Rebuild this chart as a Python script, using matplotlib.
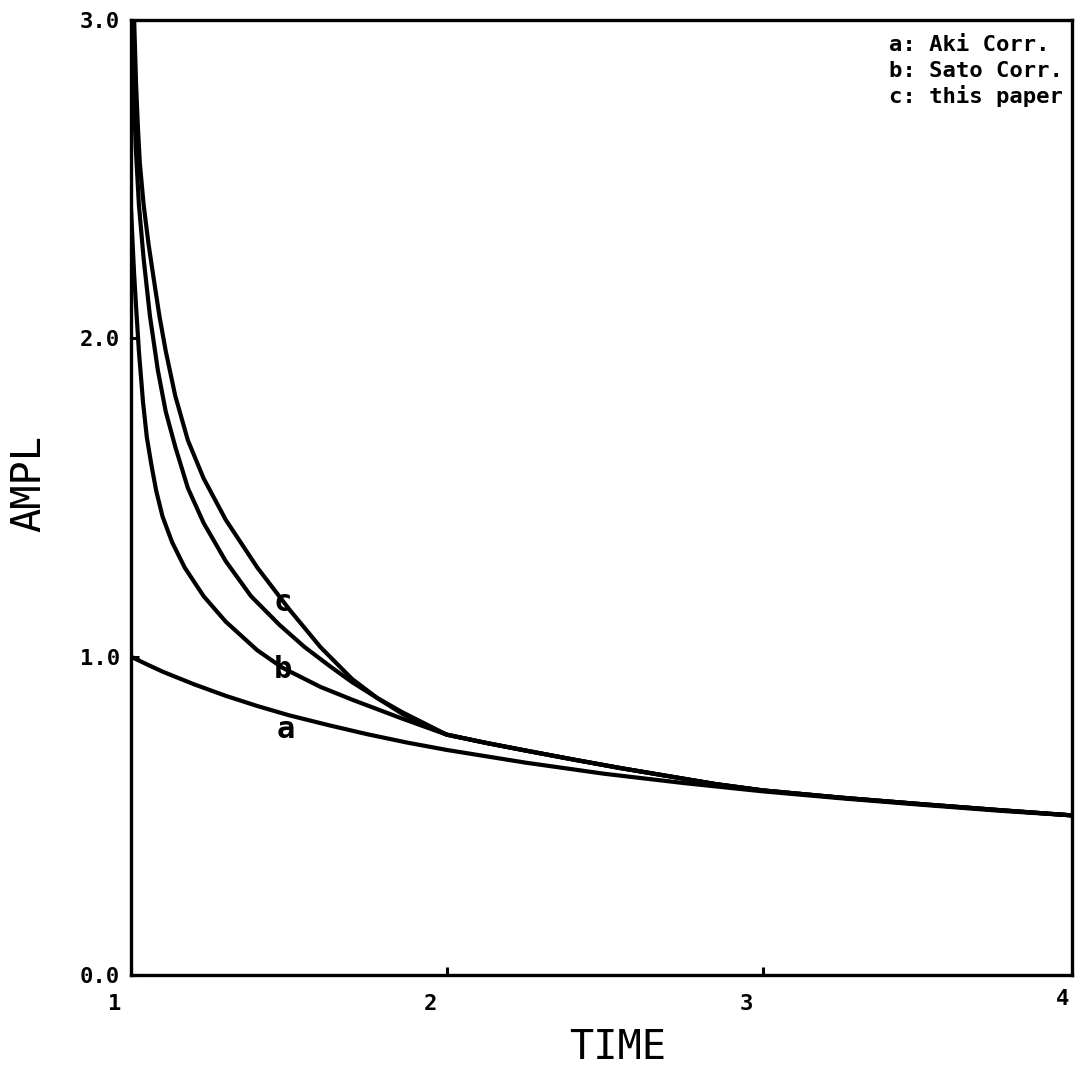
import matplotlib
matplotlib.use("Agg")
import matplotlib.pyplot as plt
from matplotlib.transforms import ScaledTranslation

# amplitude decay curves, values read at selected lapse times
t_aki = [1.0, 1.05, 1.1, 1.2, 1.3, 1.4, 1.5, 1.625, 1.75, 1.875, 2.0, 2.25, 2.5, 2.75,
         3.0, 3.25, 3.5, 3.75, 4.0]
amp_aki = [1.0, 0.976, 0.953, 0.913, 0.877, 0.845, 0.816, 0.785, 0.756, 0.730, 0.707,
           0.667, 0.632, 0.603, 0.577, 0.555, 0.535, 0.516, 0.50]

# common tail that the corrected curves share after t = 2
t_tail = [2.0, 2.12, 2.25, 2.4, 2.55, 2.7, 2.85, 3.0, 3.25, 3.5, 3.75, 4.0]
amp_tail = [0.755, 0.73, 0.705, 0.677, 0.65, 0.625, 0.60, 0.58, 0.557, 0.537, 0.518, 0.50]

t_sato = [1.0, 1.005, 1.01, 1.016, 1.025, 1.038, 1.05, 1.065, 1.08, 1.1, 1.13, 1.17,
          1.23, 1.3, 1.4, 1.48, 1.6, 1.7, 1.78, 1.86, 1.93]
amp_sato = [2.41, 2.30, 2.20, 2.10, 1.96, 1.80, 1.69, 1.60, 1.52, 1.44, 1.36, 1.28,
            1.19, 1.11, 1.02, 0.965, 0.905, 0.865, 0.835, 0.805, 0.78]

t_mid = [1.003, 1.008, 1.015, 1.025, 1.04, 1.06, 1.085, 1.11, 1.14, 1.18, 1.23, 1.3,
         1.38, 1.47, 1.55, 1.63, 1.7, 1.78, 1.86, 1.93]
amp_mid = [3.0, 2.80, 2.60, 2.42, 2.25, 2.07, 1.90, 1.77, 1.66, 1.53, 1.42, 1.30,
           1.19, 1.10, 1.03, 0.97, 0.92, 0.87, 0.82, 0.785]

t_paper = [1.01, 1.016, 1.022, 1.028, 1.04, 1.055, 1.07, 1.09, 1.11, 1.14, 1.18, 1.23,
           1.3, 1.4, 1.5, 1.6, 1.7, 1.78, 1.86, 1.93]
amp_paper = [3.0, 2.80, 2.66, 2.55, 2.42, 2.30, 2.20, 2.07, 1.96, 1.82, 1.68, 1.56,
             1.43, 1.28, 1.15, 1.03, 0.93, 0.87, 0.825, 0.79]

curve_tags = ["a", "b", "c"]
tag_pos = [(1.49, 0.77), (1.48, 0.96), (1.48, 1.17)]
legend_lines = ["a: Aki Corr.", "b: Sato Corr.", "c: this paper"]

x_ticks = [1, 2, 3]
y_ticks = [0.0, 1.0, 2.0, 3.0]

mono = "DejaVu Sans Mono"

fig = plt.figure(figsize=(10.75, 10.70), dpi=100)
ax = fig.add_axes([131 / 1075, 95 / 1070, 941 / 1075, 955 / 1070])

lw = 3.0
style = dict(color="black", lw=lw, solid_capstyle="round", solid_joinstyle="round")
ax.plot(t_aki, amp_aki, **style)
ax.plot(t_sato + t_tail, amp_sato + amp_tail, **style)
ax.plot(t_mid + t_tail, amp_mid + amp_tail, **style)
ax.plot(t_paper + t_tail, amp_paper + amp_tail, **style)

for tag, (tx, ty) in zip(curve_tags, tag_pos):
    ax.text(tx, ty, tag, family=mono, fontweight="bold", fontsize=22,
            ha="center", va="center", color="black")

for i, line in enumerate(legend_lines):
    ax.text(0.806, 0.974 - i * 0.027, line, transform=ax.transAxes, family=mono,
            fontweight="bold", fontsize=16, ha="left", va="center")

ax.set_xlim(1, 3.98)
ax.set_ylim(0, 3)

for side in ["left", "right", "top", "bottom"]:
    ax.spines[side].set_linewidth(2.4)

ax.set_xticks(x_ticks)
ax.set_yticks(y_ticks)
ax.set_yticklabels([f"{v:.1f}" for v in y_ticks])
ax.tick_params(direction="in", length=6, width=2.2, labelsize=16)
ax.tick_params(axis="x", pad=14)
ax.tick_params(axis="y", pad=8)
for lab in ax.get_xticklabels() + ax.get_yticklabels():
    lab.set_family(mono)
    lab.set_fontweight("bold")
shift = ScaledTranslation(-0.16, 0, fig.dpi_scale_trans)
for lab in ax.get_xticklabels():
    lab.set_transform(lab.get_transform() + shift)

# the last time label sits past the frame edge
ax.text(4, -0.025, "4", family=mono, fontweight="bold", fontsize=16,
        ha="center", va="center", clip_on=False,
        transform=ax.get_xaxis_transform() + shift)

ax.set_xlabel("TIME", family=mono, fontsize=29)
ax.xaxis.set_label_coords(0.517, -0.076)
ax.xaxis.label.set_va("center")
ax.set_ylabel("AMPL", family=mono, fontsize=29)
ax.yaxis.set_label_coords(-0.108, 0.515)
ax.yaxis.label.set_va("center")

fig.savefig("out.png", dpi=100, facecolor="white")
